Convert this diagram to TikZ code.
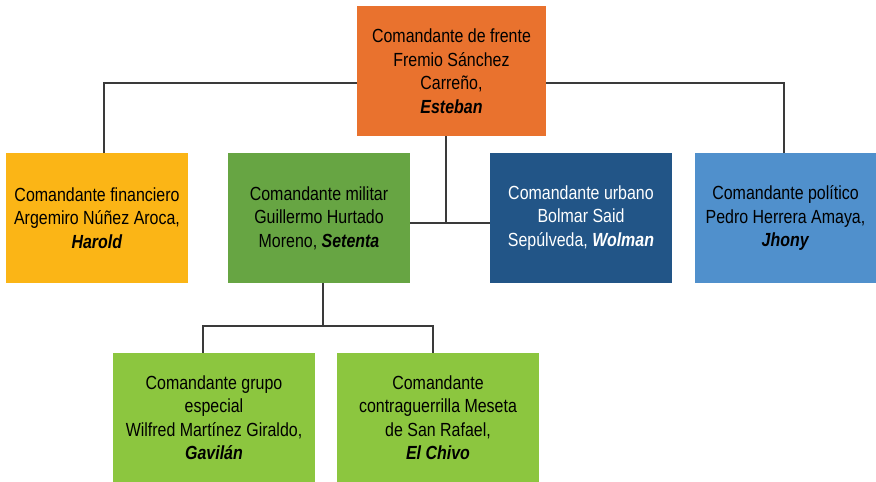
\documentclass[tikz,border=0pt]{standalone}
\usepackage{fontspec}
\setmainfont{Liberation Sans}[FakeStretch=0.84]

\definecolor{naranja}{HTML}{E9722E}
\definecolor{amarillo}{HTML}{FBB516}
\definecolor{verdeosc}{HTML}{67A543}
\definecolor{verdecla}{HTML}{8CC63F}
\definecolor{azulosc}{HTML}{225587}
\definecolor{azulcla}{HTML}{5090CC}
\definecolor{linea}{HTML}{3A3A3A}

\newcommand{\apodo}[1]{\textbf{\textit{#1}}}

\begin{document}
\begin{tikzpicture}[
  x=1pt, y=-1pt,
  caja/.style={
    minimum width=182pt,
    minimum height=130pt,
    inner sep=0pt,
    align=center,
    font=\fontsize{19}{23.5}\selectfont
  },
  cajabaja/.style={
    caja,
    minimum width=202pt,
    minimum height=129pt,
    fill=verdecla
  },
  conector/.style={
    linea,
    line width=1.3pt
  }
]

  \useasboundingbox (0,0) rectangle (876,482);

  % Comandante de frente
  \node[caja, fill=naranja, minimum width=189pt]
    (frente) at (451.5,71)
    {Comandante de frente\\Fremio Sánchez\\Carreño,\\\apodo{Esteban}};

  % Segundo nivel
  \node[caja, fill=amarillo]
    (financiero) at (97,218)
    {Comandante financiero\\Argemiro Núñez Aroca,\\\apodo{Harold}};

  \node[caja, fill=verdeosc]
    (militar) at (319,218)
    {Comandante militar\\Guillermo Hurtado\\Moreno, \apodo{Setenta}};

  \node[caja, fill=azulosc, text=white]
    (urbano) at (581,218)
    {Comandante urbano\\Bolmar Said\\Sepúlveda, \apodo{Wolman}};

  \node[caja, fill=azulcla, minimum width=181pt]
    (politico) at (785.5,218)
    {Comandante político\\Pedro Herrera Amaya,\\\apodo{Jhony}};

  % Tercer nivel
  \node[cajabaja]
    (grupo) at (214,417.5)
    {Comandante grupo\\especial\\Wilfred Martínez Giraldo,\\\apodo{Gavilán}};

  \node[cajabaja]
    (chivo) at (438,417.5)
    {Comandante\\contraguerrilla Meseta\\de San Rafael,\\\apodo{El Chivo}};

  % Puntos de quiebre
  \coordinate (izq) at (104,83);
  \coordinate (der) at (784,83);
  \coordinate (centro) at (446,223);
  \coordinate (bajo) at (323,326);
  \coordinate (bizq) at (203,326);
  \coordinate (bder) at (433,326);

  % Conectores
  \draw[conector]
    (financiero.north -| izq) -- (izq)
    -- (izq -| frente.west);

  \draw[conector]
    (frente.east |- der) -- (der)
    -- (politico.north -| der);

  \draw[conector]
    (frente.south -| centro) -- (centro);

  \draw[conector]
    (militar.east |- centro) -- (urbano.west |- centro);

  \draw[conector]
    (militar.south -| bajo) -- (bajo);

  \draw[conector]
    (grupo.north -| bizq) -- (bizq)
    -- (bder) -- (chivo.north -| bder);

\end{tikzpicture}
\end{document}
